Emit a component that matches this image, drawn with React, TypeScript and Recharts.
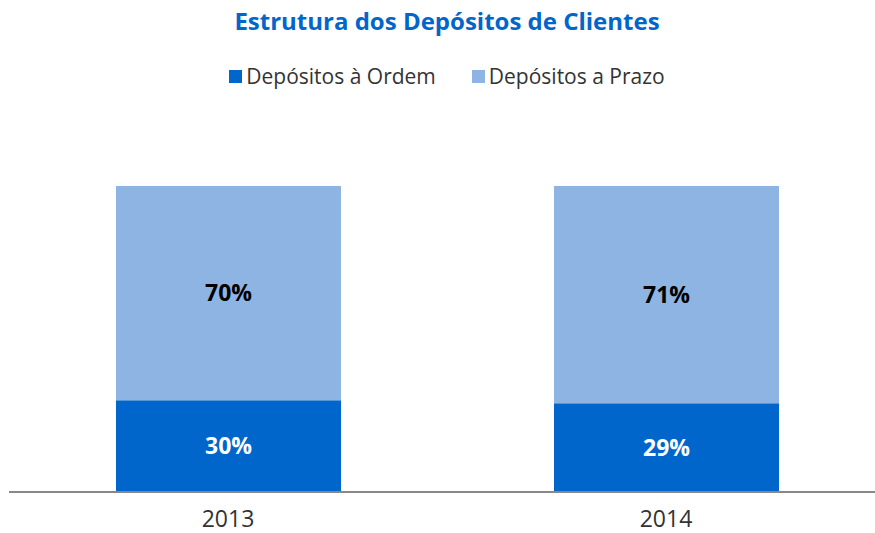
import React from 'react'
import { BarChart, Bar, XAxis, YAxis, Legend, LabelList } from 'recharts'

const years = ['2013', '2014']
const ordem = [30, 29]
const prazo = [70, 71]

const data = years.map((year, i) => ({
  year,
  ordem: ordem[i],
  prazo: prazo[i]
}))

const FONT = '"Open Sans", "Noto Sans", sans-serif'
const DARK = '#0066CC'
const LIGHT = '#8EB4E3'

const legendItems = [
  { label: 'Depósitos à Ordem', color: DARK },
  { label: 'Depósitos a Prazo', color: LIGHT }
]

function TopLegend() {
  return (
    <div style={{ display: 'flex', justifyContent: 'center', gap: 36, fontFamily: FONT, fontSize: 21, color: '#333', lineHeight: '28px' }}>
      {legendItems.map(item => (
        <span key={item.label} style={{ display: 'flex', alignItems: 'center' }}>
          <span style={{ width: 13, height: 13, background: item.color, marginRight: 4, display: 'inline-block' }} />
          {item.label}
        </span>
      ))}
    </div>
  )
}

export default function App() {
  return (
    <div style={{ position: 'relative', width: 875, height: 533, overflow: 'hidden', background: '#fff' }}>
      <style>{'body{margin:0;overflow:hidden}'}</style>
      <div style={{ position: 'absolute', left: 9, width: 876, top: 4, textAlign: 'center', fontFamily: FONT, fontWeight: 700, fontSize: 24, color: DARK }}>
        Estrutura dos Depósitos de Clientes
      </div>
      <BarChart width={885} height={533} data={data} margin={{ top: 158, right: 0, left: 9, bottom: 11 }} barSize={225}>
        <Legend verticalAlign="top" height={28} content={() => <TopLegend />} wrapperStyle={{ top: 62 }} />
        <XAxis
          dataKey="year"
          axisLine={{ stroke: '#888', strokeWidth: 2 }}
          tickLine={false}
          height={30}
          tick={{ fontFamily: FONT, fontSize: 23, fill: '#333' }}
          tickMargin={13}
        />
        <YAxis hide domain={[0, 100]} />
        <Bar dataKey="ordem" stackId="a" fill={DARK} isAnimationActive={false}>
          <LabelList dataKey="ordem" position="center" formatter={(v: number) => `${v}%`} style={{ fill: '#fff', fontFamily: FONT, fontWeight: 700, fontSize: 23 }} />
        </Bar>
        <Bar dataKey="prazo" stackId="a" fill={LIGHT} isAnimationActive={false}>
          <LabelList dataKey="prazo" position="center" formatter={(v: number) => `${v}%`} style={{ fill: '#000', fontFamily: FONT, fontWeight: 700, fontSize: 23 }} />
        </Bar>
      </BarChart>
    </div>
  )
}
